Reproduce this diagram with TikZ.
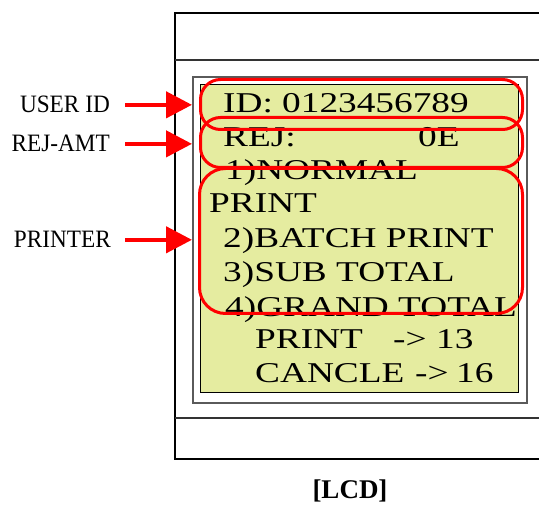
\documentclass[tikz,border=0pt]{standalone}
\usepackage{fontspec}
\setmainfont{Liberation Serif}
\newfontfamily\lcdfont[FakeStretch=1.3]{Liberation Serif}
\newfontfamily\lblfont[FakeStretch=0.93]{Liberation Serif}
\usetikzlibrary{arrows.meta}
\definecolor{lcdgreen}{RGB}{229,236,160}
\definecolor{boxgray}{RGB}{90,90,90}
\begin{document}
\begin{tikzpicture}[x=1pt,y=-1pt,
  lbl/.style={font=\lblfont\fontsize{25}{25}\selectfont, inner sep=0, anchor=base east},
  lcd/.style={font=\lcdfont\fontsize{28.7}{28.7}\selectfont, inner sep=0, anchor=base west},
  redbox/.style={draw=red, line width=3pt, rounded corners=#1, inner sep=0, anchor=north west},
  arr/.style={draw=red, line width=4.5pt, -{Triangle[length=26pt,width=26pt]}},
  frame/.style={line width=1.3pt}]
\useasboundingbox (0,0) rectangle (539,505);
% outer device frame (extends past right edge)
\draw[frame] (539,13) -- (175,13) -- (175,459) -- (539,459);
\draw[frame, draw=black!80] (175,60) -- (539,60);
\draw[frame, draw=black!80] (175,418) -- (539,418);
% LCD boxes
\node[draw=boxgray, line width=1.8pt, minimum width=334pt, minimum height=326pt, inner sep=0, anchor=north west] (inner) at (192,76) {};
\node[draw=black, fill=lcdgreen, line width=1.3pt, minimum width=318pt, minimum height=308pt, inner sep=0, anchor=north west] (screen) at (200,84) {};
% LCD text
\node[lcd] (t1) at (223,113) {ID: 0123456789};
\node[lcd] (t2) at (223,147) {REJ:};
\node[lcd] (t2b) at (418,147) {0E};
\node[lcd] (t3) at (225,180) {1)NORMAL};
\node[lcd] (t4) at (209,213) {PRINT};
\node[lcd] (t5) at (223,248) {2)BATCH PRINT};
\node[lcd] (t6) at (223,282) {3)SUB TOTAL};
\node[lcd] (t7) at (225,317) {4)GRAND TOTAL};
\node[lcd] (t8) at (255,349) {PRINT};
\node[lcd] (t8b) at (393,349) {->};
\node[lcd] (t8c) at (436,349) {13};
\node[lcd] (t9) at (255,383) {CANCLE};
\node[lcd] (t9b) at (415,383) {->};
\node[lcd] (t9c) at (456,383) {16};
% red highlight boxes
\node[redbox=20pt, minimum width=322pt, minimum height=50pt] (idbox) at (199,78) {};
\node[redbox=20pt, minimum width=322pt, minimum height=50pt] (rejbox) at (199,116) {};
\node[redbox=26pt, minimum width=323pt, minimum height=145pt] (prbox) at (198,167) {};
% labels
\node[lbl] (uid) at (110,113) {USER ID};
\node[lbl] (rej) at (110,152) {REJ-AMT};
\node[lbl] (prn) at (111,248) {PRINTER};
% arrows
\draw[arr] ([xshift=15pt]uid.east) -- (uid.east -| inner.west);
\draw[arr] ([xshift=15pt]rej.east) -- (rej.east -| inner.west);
\draw[arr] ([xshift=14pt]prn.east) -- (prn.east -| inner.west);
% caption
\node[font=\bfseries\fontsize{27}{27}\selectfont, inner sep=0, anchor=base] (cap) at (350,499) {[LCD]};
\end{tikzpicture}
\end{document}
